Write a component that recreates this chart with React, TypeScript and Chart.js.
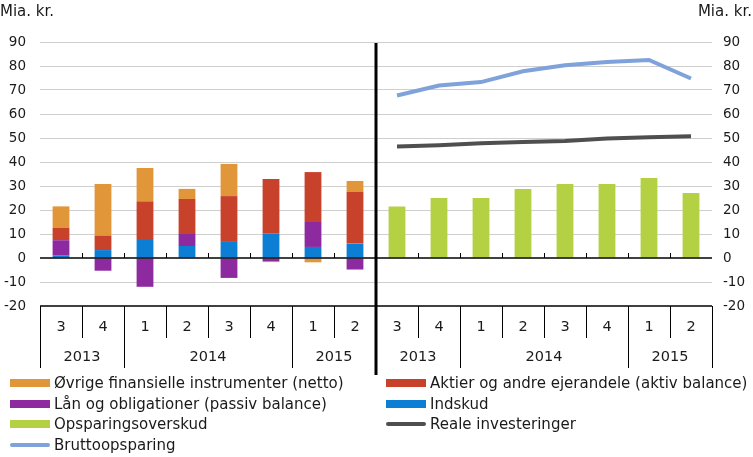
import React, { useEffect, useRef } from "react";
import { Chart, registerables } from "chart.js";

Chart.register(...registerables);

const quarters = ["3", "4", "1", "2", "3", "4", "1", "2"];
const yearGroups: { label: string; n: number }[] = [
  { label: "2013", n: 2 },
  { label: "2014", n: 4 },
  { label: "2015", n: 2 },
];
const categories = [...quarters, ...quarters].map((q, i) => `${i}-${q}`);

const indskud = [1.0, 3.3, 7.5, 5.0, 6.7, 10.3, 4.6, 6.0];
const laan = [6.4, -5.3, -12.0, 5.0, -8.3, -1.4, 10.4, -4.8];
const aktier = [5.1, 5.9, 16.1, 14.6, 19.1, 22.6, 20.8, 21.5];
const oevrige = [9.0, 21.6, 13.9, 4.2, 13.4, -0.3, -1.8, 4.6];

const opsparingsoverskud = [21.5, 25.0, 25.0, 28.7, 30.8, 30.8, 33.3, 27.1];
const realeInvesteringer = [46.5, 47.0, 47.8, 48.3, 48.7, 49.8, 50.3, 50.7];
const bruttoopsparing = [67.7, 71.9, 73.3, 77.8, 80.3, 81.7, 82.5, 74.8];

const yMin = -20;
const yMax = 90;
const yStep = 10;

const C = {
  orange: "#E2963A",
  red: "#C8412A",
  purple: "#8E2AA0",
  blue: "#0C7ED4",
  green: "#B3D142",
  dark: "#4F4F4F",
  light: "#7FA2DA",
};

const FONT = "'DejaVu Sans', Verdana, sans-serif";
const nulls = Array(8).fill(null);
const left = (a: number[]) => [...a, ...nulls];
const right = (a: number[]) => [...nulls, ...a];

const legendItems = [
  { label: "Øvrige finansielle instrumenter (netto)", color: C.orange, kind: "bar", col: 0, row: 0 },
  { label: "Aktier og andre ejerandele (aktiv balance)", color: C.red, kind: "bar", col: 1, row: 0 },
  { label: "Lån og obligationer (passiv balance)", color: C.purple, kind: "bar", col: 0, row: 1 },
  { label: "Indskud", color: C.blue, kind: "bar", col: 1, row: 1 },
  { label: "Opsparingsoverskud", color: C.green, kind: "bar", col: 0, row: 2 },
  { label: "Reale investeringer", color: C.dark, kind: "line", col: 1, row: 2 },
  { label: "Bruttoopsparing", color: C.light, kind: "line", col: 0, row: 3 },
];

const overlay = {
  id: "overlay",
  afterDatasetsDraw(chart: any) {
    const { ctx, chartArea } = chart;
    const ys = chart.scales.y;
    const n = categories.length;
    const w = (chartArea.right - chartArea.left) / n;
    const bx = (k: number) => chartArea.left + k * w;
    const y0 = ys.getPixelForValue(0);
    const yb = ys.getPixelForValue(yMin);
    ctx.save();
    ctx.strokeStyle = "#000";
    // zero line
    ctx.lineWidth = 1.5;
    ctx.beginPath();
    ctx.moveTo(chartArea.left, y0);
    ctx.lineTo(chartArea.right, y0);
    ctx.stroke();
    // small ticks above zero
    ctx.lineWidth = 1;
    for (let k = 1; k < n; k++) {
      if (k === 8) continue;
      const x = Math.round(bx(k)) + 0.5;
      ctx.beginPath();
      ctx.moveTo(x, y0);
      ctx.lineTo(x, y0 - 5);
      ctx.stroke();
    }
    // bottom line
    ctx.lineWidth = 1.5;
    ctx.beginPath();
    ctx.moveTo(chartArea.left, yb);
    ctx.lineTo(chartArea.right, yb);
    ctx.stroke();
    // category boundaries
    ctx.lineWidth = 1;
    const yearBounds = new Set<number>();
    for (let half = 0; half < 2; half++) {
      let k = half * 8;
      yearBounds.add(k);
      for (const g of yearGroups) {
        k += g.n;
        yearBounds.add(k);
      }
    }
    for (let k = 0; k <= n; k++) {
      if (k === 8) continue;
      const x = Math.round(bx(k)) + 0.5;
      const yEnd = yearBounds.has(k) ? yb + 62 : yb + 32;
      ctx.beginPath();
      ctx.moveTo(x, yb);
      ctx.lineTo(x, yEnd);
      ctx.stroke();
    }
    // labels
    ctx.fillStyle = "#1a1a1a";
    ctx.textAlign = "center";
    ctx.textBaseline = "middle";
    ctx.font = `14.5px ${FONT}`;
    for (let i = 0; i < n; i++) {
      ctx.fillText(quarters[i % 8], bx(i) + w / 2, yb + 21);
    }
    for (let half = 0; half < 2; half++) {
      let k = half * 8;
      for (const g of yearGroups) {
        ctx.fillText(g.label, bx(k) + (g.n * w) / 2, yb + 51);
        k += g.n;
      }
    }
    // divider
    ctx.lineWidth = 3;
    ctx.beginPath();
    ctx.moveTo(bx(8), chartArea.top + 1);
    ctx.lineTo(bx(8), yb + 69);
    ctx.stroke();
    // unit labels
    ctx.font = `15px ${FONT}`;
    ctx.textBaseline = "alphabetic";
    ctx.textAlign = "left";
    ctx.fillText("Mia. kr.", 0, 16);
    ctx.textAlign = "right";
    ctx.fillText("Mia. kr.", 752, 16);
    ctx.restore();
  },
};

export default function App() {
  const ref = useRef<HTMLCanvasElement | null>(null);
  useEffect(() => {
    if (!ref.current) return;
    const barCommon = { type: "bar" as const, stack: "bars", barPercentage: 0.4, categoryPercentage: 1, borderWidth: 0 };
    const chart = new Chart(ref.current, {
      type: "bar",
      data: {
        labels: categories,
        datasets: [
          { ...barCommon, label: "Indskud", data: left(indskud), backgroundColor: C.blue },
          { ...barCommon, label: "Lån og obligationer (passiv balance)", data: left(laan), backgroundColor: C.purple },
          { ...barCommon, label: "Aktier og andre ejerandele (aktiv balance)", data: left(aktier), backgroundColor: C.red },
          { ...barCommon, label: "Øvrige finansielle instrumenter (netto)", data: left(oevrige), backgroundColor: C.orange },
          { ...barCommon, label: "Opsparingsoverskud", data: right(opsparingsoverskud), backgroundColor: C.green },
          {
            type: "line" as const,
            stack: "l1",
            label: "Reale investeringer",
            data: right(realeInvesteringer),
            borderColor: C.dark,
            borderWidth: 4,
            pointRadius: 0,
            tension: 0,
            spanGaps: false,
          },
          {
            type: "line" as const,
            stack: "l2",
            label: "Bruttoopsparing",
            data: right(bruttoopsparing),
            borderColor: C.light,
            borderWidth: 4,
            pointRadius: 0,
            tension: 0,
            spanGaps: false,
          },
        ] as any,
      },
      options: {
        responsive: false,
        animation: false,
        layout: { padding: { top: 42, bottom: 151, left: 0, right: 0 } },
        plugins: { legend: { display: false }, tooltip: { enabled: false } },
        scales: {
          x: { display: false, stacked: true },
          y: {
            position: "left",
            stacked: true,
            min: yMin,
            max: yMax,
            border: { display: false },
            grid: {
              drawTicks: false,
              color: (c: any) => (c.tick && (c.tick.value === 0 || c.tick.value === yMin) ? "rgba(0,0,0,0)" : "#CFCFCF"),
              lineWidth: 1,
            },
            ticks: { stepSize: yStep, padding: 14, color: "#1a1a1a", font: { family: FONT, size: 13.5 } },
            afterFit: (s: any) => {
              s.width = 40;
            },
          },
          y2: {
            position: "right",
            min: yMin,
            max: yMax,
            border: { display: false },
            grid: { display: false, drawTicks: false },
            ticks: { stepSize: yStep, padding: 11, color: "#1a1a1a", font: { family: FONT, size: 13.5 } },
            afterFit: (s: any) => {
              s.width = 41;
            },
          },
        } as any,
      },
      plugins: [overlay],
    });
    return () => chart.destroy();
  }, []);

  return (
    <div style={{ position: "fixed", left: 0, top: 0, width: 753, height: 457, background: "#fff", overflow: "hidden" }}>
      <canvas ref={ref} width={753} height={457} style={{ display: "block" }} />
      {legendItems.map((it) => {
        const x = it.col === 0 ? 10 : 386;
        const cy = 383 + it.row * 20.7;
        return (
          <div key={it.label} style={{ position: "absolute", left: x, top: cy - 10, height: 20, display: "flex", alignItems: "center", whiteSpace: "nowrap" }}>
            <span
              style={{
                display: "inline-block",
                width: 40,
                height: it.kind === "bar" ? 8 : 4,
                borderRadius: it.kind === "bar" ? 0 : 2,
                background: it.color,
                marginRight: 4,
              }}
            />
            <span style={{ fontFamily: FONT, fontSize: 15, color: "#1a1a1a", lineHeight: "20px" }}>{it.label}</span>
          </div>
        );
      })}
    </div>
  );
}
